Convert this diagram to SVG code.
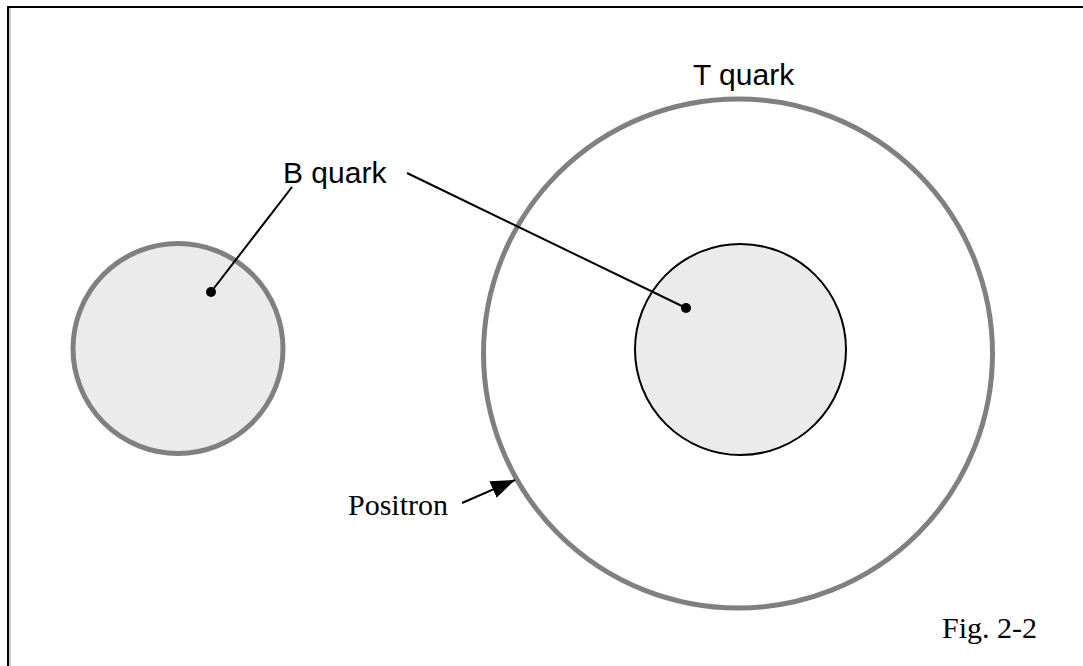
<svg xmlns="http://www.w3.org/2000/svg" width="1083" height="666" viewBox="0 0 1083 666">
<defs>
<style>
.outer{fill:#ebebeb;stroke:#808080;stroke-width:5}
.ring{fill:#fff;stroke:#808080;stroke-width:5}
.inner{fill:#ebebeb;stroke:#000;stroke-width:2}
.sans{font-family:"Liberation Sans",Arial,sans-serif;font-size:30px;fill:#000}
.serif{font-family:"Liberation Serif","Times New Roman",serif;font-size:30px;fill:#000}
.lead{stroke:#000;stroke-width:2;fill:none}
</style>
<marker id="arrbig" viewBox="0 0 10 10" refX="10" refY="5" markerWidth="24" markerHeight="18" markerUnits="userSpaceOnUse" orient="auto" preserveAspectRatio="none">
<path d="M0,0 L10,5 L0,10 Z" fill="#000"/>
</marker>
</defs>
<rect width="1083" height="666" fill="#fff"/>
<g id="frame">
<line x1="7" y1="7" x2="1083" y2="7" stroke="#000" stroke-width="2"/>
<line x1="8" y1="6" x2="8" y2="666" stroke="#000" stroke-width="2"/>
<line x1="10" y1="8" x2="10" y2="666" stroke="#999" stroke-width="1"/>
</g>
<g id="b-quark-left">
<circle class="outer" cx="178" cy="348.5" r="105"/>
<circle cx="211" cy="292" r="5" fill="#000"/>
</g>
<g id="t-quark">
<circle class="ring" cx="738" cy="353.5" r="254.5"/>
</g>
<g id="b-quark-inner">
<circle class="inner" cx="740.5" cy="349.5" r="105.5"/>
<circle cx="686" cy="308" r="5" fill="#000"/>
</g>
<g id="labels">
<text class="sans" x="283" y="183">B quark</text>
<text class="sans" x="693" y="85">T quark</text>
<text class="serif" x="448" y="515" text-anchor="end">Positron</text>
<text class="serif" x="942" y="638">Fig. 2-2</text>
</g>
<g id="connectors">
<line class="lead" x1="211" y1="292" x2="292" y2="187"/>
<line class="lead" x1="686" y1="308" x2="407" y2="173"/>
<line class="lead" x1="462" y1="503" x2="515" y2="480" marker-end="url(#arrbig)"/>
</g>
</svg>
